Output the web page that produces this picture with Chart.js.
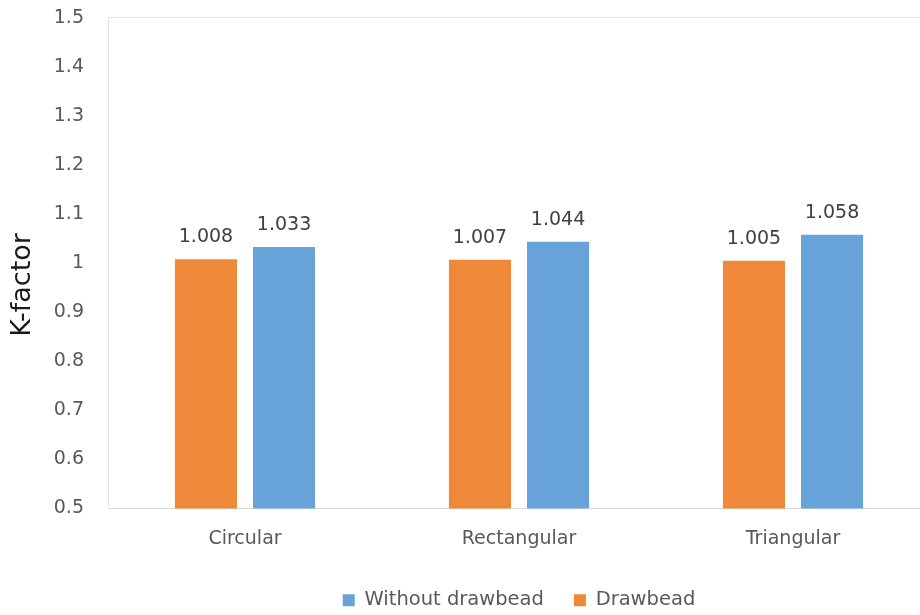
<!DOCTYPE html>
<html>
<head>
<meta charset="utf-8">
<script src="https://cdn.jsdelivr.net/npm/chart.js@4.4.1/dist/chart.umd.min.js"></script>
<style>
  html, body { margin: 0; padding: 0; background: #fff; overflow: hidden; }
  #wrap { position: relative; width: 930px; height: 620px; }
</style>
</head>
<body>
<div id="wrap"><canvas id="chart"></canvas></div>
<script>
// Shape of the drawbead cross-section
const categories = ['Circular', 'Rectangular', 'Triangular'];
// K-factor per shape
const drawbeadValues = [1.008, 1.007, 1.005];
const withoutDrawbeadValues = [1.033, 1.044, 1.058];
// Value axis range
const yMin = 0.5;
const yMax = 1.5;
const yStep = 0.1;

const FONT = 'DejaVu Sans';
const AREA_LEFT = 108;

// Thin frame round the plot area (top and left edges)
const plotFrame = {
  id: 'plotFrame',
  beforeDatasetsDraw(chart) {
    const { ctx, chartArea: a } = chart;
    ctx.save();
    ctx.strokeStyle = '#e6e6e6';
    ctx.lineWidth = 1;
    ctx.beginPath();
    ctx.moveTo(a.left + 0.5, a.bottom);
    ctx.lineTo(a.left + 0.5, a.top - 0.5);
    ctx.lineTo(a.right, a.top - 0.5);
    ctx.stroke();
    ctx.restore();
  }
};

// Value printed above each bar
const barValues = {
  id: 'barValues',
  afterDatasetsDraw(chart) {
    const { ctx } = chart;
    ctx.save();
    ctx.font = `19px "${FONT}"`;
    ctx.fillStyle = '#404040';
    ctx.textAlign = 'center';
    ctx.textBaseline = 'alphabetic';
    chart.data.datasets.forEach((ds, di) => {
      chart.getDatasetMeta(di).data.forEach((bar, i) => {
        ctx.fillText(ds.data[i].toFixed(3), bar.x, bar.y - 17);
      });
    });
    ctx.restore();
  }
};

// Rotated value-axis title
const axisTitle = {
  id: 'axisTitle',
  afterDraw(chart) {
    const { ctx } = chart;
    ctx.save();
    ctx.translate(23, 285);
    ctx.rotate(-Math.PI / 2);
    ctx.font = `27px "${FONT}"`;
    ctx.fillStyle = '#1a1a1a';
    ctx.textAlign = 'center';
    ctx.textBaseline = 'middle';
    ctx.fillText('K-factor', 0, 0);
    ctx.restore();
  }
};

new Chart(document.getElementById('chart'), {
  type: 'bar',
  data: {
    labels: categories,
    datasets: [
      {
        label: 'Drawbead',
        data: drawbeadValues,
        backgroundColor: '#f0883a',
        borderWidth: 0
      },
      {
        label: 'Without drawbead',
        data: withoutDrawbeadValues,
        backgroundColor: '#67a3d8',
        borderWidth: 0
      }
    ]
  },
  options: {
    responsive: true,
    maintainAspectRatio: false,
    animation: false,
    devicePixelRatio: 1,
    categoryPercentage: 0.57,
    barPercentage: 0.795,
    layout: { padding: { top: 18, left: 0, right: 0, bottom: 0 } },
    plugins: {
      tooltip: { enabled: false },
      legend: {
        position: 'bottom',
        fullSize: false,
        reverse: true,
        labels: {
          font: { family: FONT, size: 19.5 },
          color: '#595959',
          boxWidth: 12,
          boxHeight: 12,
          padding: 30
        }
      }
    },
    scales: {
      x: {
        grid: { display: false, drawTicks: false },
        border: { display: true, color: '#d9d9d9', width: 1 },
        ticks: {
          font: { family: FONT, size: 19 },
          color: '#595959',
          padding: 19
        },
        afterFit(scale) { scale.height = 52; }
      },
      y: {
        min: yMin,
        max: yMax,
        grid: {
          display: true,
          drawOnChartArea: false,
          drawTicks: true,
          tickLength: 24,
          color: 'rgba(0,0,0,0)'
        },
        border: { display: false },
        ticks: {
          stepSize: yStep,
          font: { family: FONT, size: 19 },
          color: '#595959',
          padding: 0,
          callback: v => String(Math.round(v * 10) / 10)
        },
        afterFit(scale) { scale.width = AREA_LEFT; }
      }
    }
  },
  plugins: [plotFrame, barValues, axisTitle]
});
</script>
</body>
</html>
